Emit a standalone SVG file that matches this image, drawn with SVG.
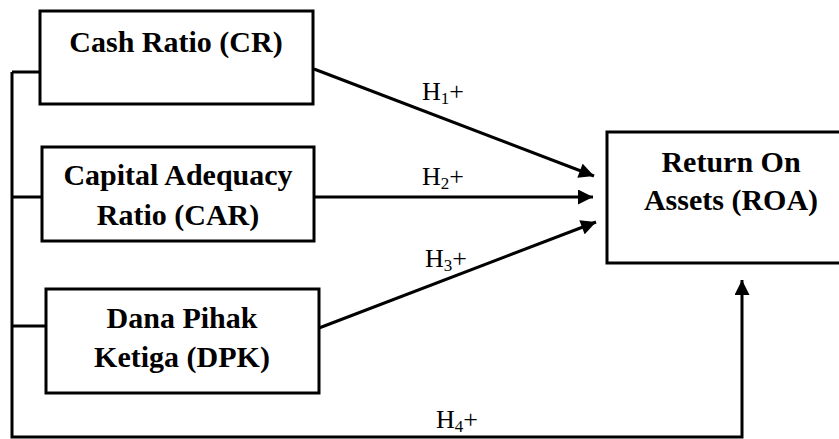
<svg xmlns="http://www.w3.org/2000/svg" width="839" height="439" viewBox="0 0 839 439">
<style>
.box{fill:#fff;stroke:#000;stroke-width:3}
.t{font-family:'Liberation Serif','Times New Roman',serif;font-weight:bold;font-size:30px;text-anchor:middle;fill:#000}
.l{font-family:'Liberation Serif','Times New Roman',serif;font-size:26px;fill:#000}
.c{fill:none;stroke:#000;stroke-width:3}
</style>
<defs>
<marker id="ah" viewBox="0 0 10 10" refX="10" refY="5" markerWidth="5.7" markerHeight="5" markerUnits="strokeWidth" orient="auto">
<path d="M0,0 L10,5 L0,10 z" fill="#000"/>
</marker>
</defs>
<g id="connectors">
<path class="c" d="M12,72 H40 M12,197 H42 M12,326 H46"/>
<path class="c" d="M12,72 V437 H742 V280" marker-end="url(#ah)"/>
<line class="c" x1="314" y1="69" x2="594" y2="176" marker-end="url(#ah)"/>
<line class="c" x1="314" y1="197" x2="593" y2="197" marker-end="url(#ah)"/>
<line class="c" x1="319" y1="328" x2="596" y2="222" marker-end="url(#ah)"/>
<text class="l" x="422" y="100">H<tspan font-size="17" dy="4">1</tspan><tspan dy="-4">+</tspan></text>
<text class="l" x="422" y="185">H<tspan font-size="17" dy="4">2</tspan><tspan dy="-4">+</tspan></text>
<text class="l" x="425" y="267">H<tspan font-size="17" dy="4">3</tspan><tspan dy="-4">+</tspan></text>
<text class="l" x="436" y="428">H<tspan font-size="17" dy="4">4</tspan><tspan dy="-4">+</tspan></text>
</g>
<g id="cr">
<rect class="box" x="40" y="11" width="273" height="93"/>
<text class="t" x="176" y="52">Cash Ratio (CR)</text>
</g>
<g id="car">
<rect class="box" x="42" y="147" width="272" height="94"/>
<text class="t" x="178" y="185">Capital Adequacy</text>
<text class="t" x="178" y="225">Ratio (CAR)</text>
</g>
<g id="dpk">
<rect class="box" x="46" y="289" width="273" height="104"/>
<text class="t" x="182" y="328">Dana Pihak</text>
<text class="t" x="182" y="367">Ketiga (DPK)</text>
</g>
<g id="roa">
<rect class="box" x="607" y="132" width="240" height="131"/>
<text class="t" x="731" y="172">Return On</text>
<text class="t" x="731" y="210">Assets (ROA)</text>
</g>
</svg>
